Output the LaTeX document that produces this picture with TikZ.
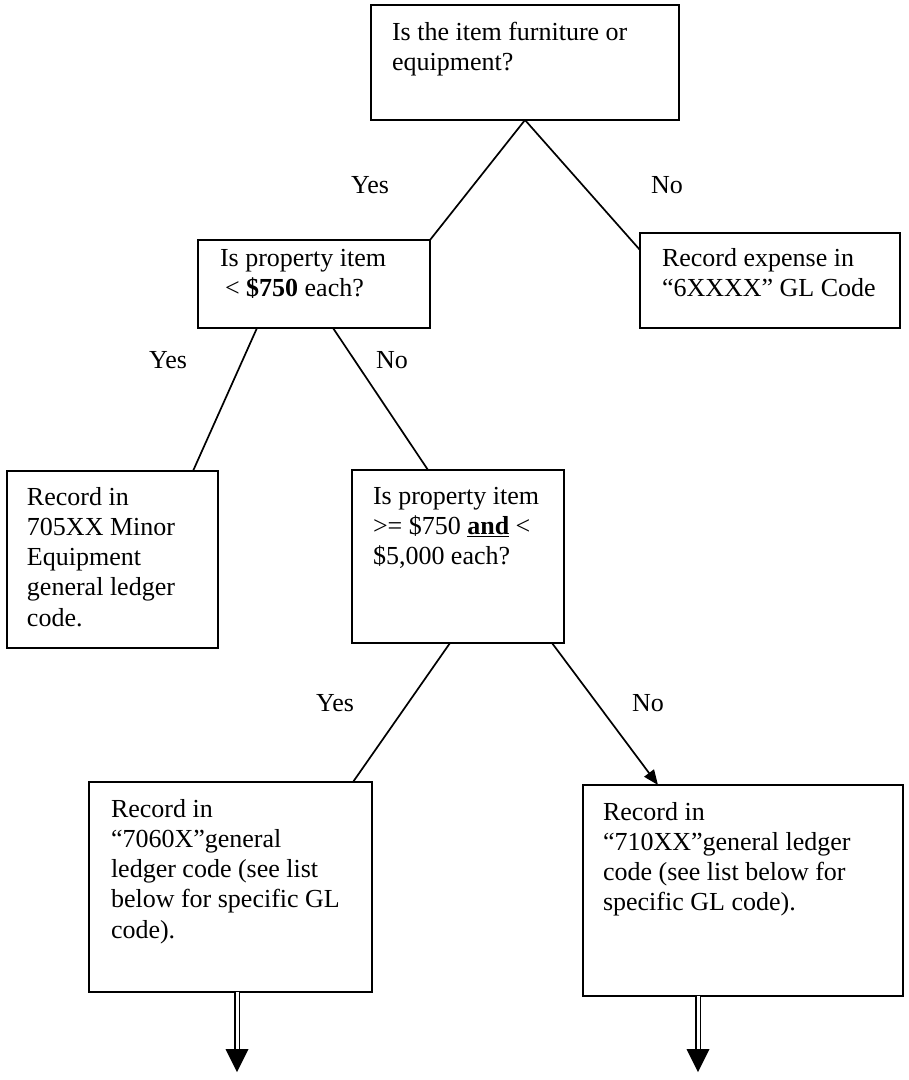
\documentclass[tikz,border=0pt]{standalone}
\usepackage{fontspec}
\setmainfont{Liberation Serif}
\usetikzlibrary{arrows.meta}
\newcommand{\boxtext}[3]{\parbox[c][#2][t]{#1}{\raggedright #3}}

\begin{document}
\begin{tikzpicture}[x=1pt, y=-1pt, font=\fontsize{26}{30.3}\selectfont,
  box/.style={draw, line width=1.8pt, anchor=north west, outer sep=0pt, inner xsep=21pt, inner ysep=17pt},
  link/.style={line width=1.7pt},
  lbl/.style={inner sep=0pt},
  dbl/.style={double, double distance=3pt, line width=1.7pt}]
\useasboundingbox (0,0) rectangle (909,1080);

% question boxes
\node[box] (item) at (371,5) {\boxtext{266pt}{81pt}{Is the item furniture or\\equipment?}};
\node[box, inner xsep=22pt, inner ysep=9pt] (lt750) at (198,240) {\boxtext{188pt}{70pt}{Is property item\\\hspace*{5pt}< \textbf{\$750} each?}};
\node[box] (q5000) at (352,470) {\boxtext{170pt}{139pt}{Is property item\\>= \$750 \underline{\textbf{and}} <\\\$5,000 each?}};

% record boxes
\node[box, inner xsep=22pt, inner ysep=15pt] (expense) at (640,233) {\boxtext{216pt}{65pt}{Record expense in\\“6XXXX” GL Code}};
\node[box, inner xsep=20pt, inner ysep=16pt] (minor) at (7,471) {\boxtext{171pt}{145pt}{Record in\\705XX Minor\\Equipment\\general ledger\\code.}};
\node[box, inner xsep=22pt] (rec7060) at (89,782) {\boxtext{239pt}{176pt}{Record in\\“7060X”general\\ledger code (see list\\below for specific GL\\code).}};
\node[box, inner xsep=20pt] (rec710) at (583,785) {\boxtext{280pt}{177pt}{Record in\\“710XX”general ledger\\code (see list below for\\specific GL code).}};

% branches
\draw[link] (item.south) -- (lt750.north east);
\draw[link] (item.south) -- ([yshift=-17pt]expense.north west);
\draw[link] ([xshift=-57pt]lt750.south) -- ([xshift=-25pt]minor.north east);
\draw[link] ([xshift=19pt]lt750.south) -- ([xshift=-30pt]q5000.north);
\draw[link] ([xshift=-8pt]q5000.south) -- ([xshift=-19pt]rec7060.north east);
\draw[link, -{Triangle[length=15pt, width=12pt]}] ([xshift=-12pt]q5000.south east) -- ([xshift=75pt]rec710.north west);

\foreach \n/\x/\y/\t in {yes1/370/185/Yes, no1/667/185/No, yes2/168/360/Yes, no2/392/360/No, yes3/335/703/Yes, no3/648/703/No}
  \node[lbl] (\n) at (\x,\y) {\t};

% continue below
\coordinate (tip1) at (237,1072);
\coordinate (tip2) at (698,1072);
\foreach \b/\t in {rec7060/tip1, rec710/tip2} {
  \draw[dbl] (\b.south -| \t) -- ([yshift=23pt]\t);
  \fill (\t) -- ++(-11.5,-23) -- ++(23,0) -- cycle;
}
\end{tikzpicture}
\end{document}
